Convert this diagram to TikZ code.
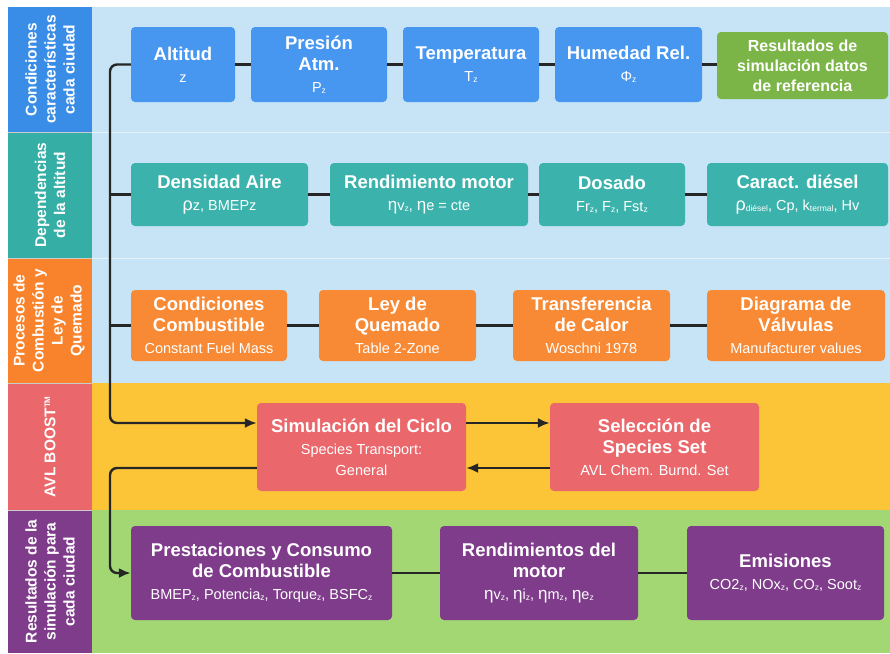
\documentclass[tikz,border=0pt]{standalone}
\usepackage{fontspec}
\setmainfont{Liberation Sans}
\usetikzlibrary{arrows.meta,calc}

\definecolor{cBlueL}{HTML}{3A8DE6}
\definecolor{cBlue}{HTML}{4797F0}
\definecolor{cTeal}{HTML}{3BB3AC}
\definecolor{cTealL}{HTML}{35AEA6}
\definecolor{cOrange}{HTML}{F98A35}
\definecolor{cOrangeL}{HTML}{F8832C}
\definecolor{cRed}{HTML}{EA676B}
\definecolor{cPurple}{HTML}{7E3C8A}
\definecolor{cGreenBox}{HTML}{7BB547}
\definecolor{bgBlue}{HTML}{C6E4F6}
\definecolor{bgYellow}{HTML}{FBC537}
\definecolor{bgGreen}{HTML}{A3D774}
\definecolor{cLine}{HTML}{262626}

\newcommand\subl[1]{{\fontsize{14.5}{17}\selectfont\mdseries #1}}
\newcommand\zs[1]{\raisebox{-1pt}{\fontsize{8.5}{9}\selectfont #1}}
\newcommand\geta{{\fontsize{17}{17}\selectfont η}}
\newcommand\grho{{\fontsize{18}{18}\selectfont ρ}}

\tikzset{
  box/.style={rounded corners=4pt, inner sep=2pt, align=center, text=white,
    font=\fontsize{18.5}{21}\selectfont\bfseries},
  lab/.style={rotate=90, align=center, text=white, inner sep=0pt,
    font=\fontsize{15.5}{19}\selectfont\bfseries},
  conn/.style={draw=cLine, line width=2.4pt},
  arr/.style={conn, -{Latex[length=12pt,width=10pt]}},
}

\begin{document}
\begin{tikzpicture}[x=1pt,y=-1pt]
\useasboundingbox (0,0) rectangle (890,653);
\fill[white] (0,0) rectangle (890,653);
% backgrounds
\fill[bgBlue] (92,7) rectangle (890,383);
\draw[white!55!bgBlue, line width=1pt] (92,132) -- (890,132);
\draw[white!55!bgBlue, line width=1pt] (92,258) -- (890,258);
\fill[bgYellow] (92,383) rectangle (890,510);
\fill[bgGreen] (92,510) rectangle (890,653);
% label column
\fill[cBlueL] (8,7) rectangle (92,132);
\fill[cTealL] (8,132) rectangle (92,258);
\fill[cOrangeL] (8,258) rectangle (92,383);
\fill[cRed] (8,383) rectangle (92,510);
\fill[cPurple] (8,510) rectangle (92,653);
\draw[white!80!black, line width=0.6pt] (8,132) -- (92,132);
\draw[white!80!black, line width=0.6pt] (8,258) -- (92,258);
\draw[white!80!black, line width=0.6pt] (8,383) -- (92,383);
\draw[white!80!black, line width=0.6pt] (8,510) -- (92,510);

\node[lab] (l1) at (50,69.5) {Condiciones\\características\\cada ciudad};
\node[lab] (l2) at (50,195) {Dependencias\\de la altitud};
\node[lab] (l3) at (49,320.5) {Procesos de\\Combustión y\\Ley de\\Quemado};
\node[lab] (l4) at (50,446.5) {AVL BOOST\textsuperscript{\fontsize{8}{8}\selectfont TM}};
\node[lab] (l5) at (50,581.5) {Resultados de la\\simulación para\\cada ciudad};

% row 1
\node[box, fill=cBlue, minimum width=104pt, minimum height=75pt] (alt) at (183,64.5) {Altitud\\[1pt]\subl{z}};
\node[box, fill=cBlue, minimum width=136pt, minimum height=75pt] (pres) at (319,64.5) {Presión\\Atm.\\[1pt]\subl{P\zs{z}}};
\node[box, fill=cBlue, minimum width=136pt, minimum height=75pt] (temp) at (471,64.5) {Temperatura\\[1pt]\subl{T\zs{z}}};
\node[box, fill=cBlue, minimum width=147pt, minimum height=75pt] (hum) at (628.5,64.5) {Humedad Rel.\\[1pt]\subl{Φ\zs{z}}};
\node[box, fill=cGreenBox, minimum width=171pt, minimum height=67pt, font=\fontsize{16}{20}\selectfont\bfseries] (res) at (802.5,65.5) {Resultados de\\simulación datos\\de referencia};

% row 2
\node[box, fill=cTeal, minimum width=177pt, minimum height=63pt] (dens) at (219.5,194.5) {Densidad Aire\\[1pt]\subl{\grho z, BMEPz}};
\node[box, fill=cTeal, minimum width=198pt, minimum height=63pt] (rend) at (429,194.5) {Rendimiento motor\\[1pt]\subl{\geta v\zs{z}, \geta e = cte}};
\node[box, fill=cTeal, minimum width=146pt, minimum height=63pt] (dos) at (612,194.5) {Dosado\\[1pt]\subl{Fr\zs{z}, F\zs{z}, Fst\zs{z}}};
\node[box, fill=cTeal, minimum width=181pt, minimum height=63pt] (car) at (797.5,194.5) {Caract. diésel\\[1pt]\subl{\grho\zs{diésel}, Cp, k\zs{termal}, Hv}};

% row 3
\node[box, fill=cOrange, minimum width=156pt, minimum height=71pt] (cond) at (209,325.5) {Condiciones\\Combustible\\[1pt]\subl{Constant Fuel Mass}};
\node[box, fill=cOrange, minimum width=157pt, minimum height=71pt] (ley) at (397.5,325.5) {Ley de\\Quemado\\[1pt]\subl{Table 2-Zone}};
\node[box, fill=cOrange, minimum width=157pt, minimum height=71pt] (tra) at (591.5,325.5) {Transferencia\\de Calor\\[1pt]\subl{Woschni 1978}};
\node[box, fill=cOrange, minimum width=178pt, minimum height=71pt] (dia) at (796,325.5) {Diagrama de\\Válvulas\\[1pt]\subl{Manufacturer values}};

% row 4
\node[box, fill=cRed, minimum width=209pt, minimum height=88pt] (sim) at (361.5,447) {Simulación del Ciclo\\[1pt]\subl{Species Transport:}\\\subl{General}};
\node[box, fill=cRed, minimum width=209pt, minimum height=88pt] (sel) at (654.5,447) {Selección de\\Species Set\\[1pt]\subl{AVL Chem. Burnd. Set}};

% row 5
\node[box, fill=cPurple, minimum width=261pt, minimum height=94pt] (pre) at (261.5,573) {Prestaciones y Consumo\\de Combustible\\[1pt]\subl{BMEP\zs{z}, Potencia\zs{z}, Torque\zs{z}, BSFC\zs{z}}};
\node[box, fill=cPurple, minimum width=198pt, minimum height=94pt] (ren) at (539,573) {Rendimientos del\\motor\\[1pt]\subl{\geta v\zs{z}, \geta i\zs{z}, \geta m\zs{z}, \geta e\zs{z}}};
\node[box, fill=cPurple, minimum width=197pt, minimum height=94pt] (emi) at (785.5,573) {Emisiones\\[1pt]\subl{CO2\zs{z}, NOx\zs{z}, CO\zs{z}, Soot\zs{z}}};

% connectors
\coordinate (t1) at (110,423);
\coordinate (t2) at (110,468);
\draw[arr, rounded corners=7pt] (alt.west) -| (t1) -- (t1 -| sim.west);
\draw[conn] (dens.west) -- (dens.west -| t1);
\draw[conn] (cond.west) -- (cond.west -| t1);

\draw[conn] (alt.east) -- (pres.west);
\draw[conn] (pres.east) -- (temp.west);
\draw[conn] (temp.east) -- (hum.west);
\draw[conn] (hum.east) -- (hum.east -| res.west);

\draw[conn] (dens.east) -- (rend.west);
\draw[conn] (rend.east) -- (dos.west);
\draw[conn] (dos.east) -- (car.west);

\draw[conn] (cond.east) -- (ley.west);
\draw[conn] (ley.east) -- (tra.west);
\draw[conn] (tra.east) -- (dia.west);

\draw[arr] ([yshift=24pt]sim.east) -- ([yshift=24pt]sel.west);
\draw[arr] ([yshift=-21pt]sel.west) -- ([yshift=-21pt]sim.east);
\draw[arr, rounded corners=7pt] ([yshift=-21pt]sim.west) -- (t2) |- (pre.west);

\draw[conn] (pre.east) -- (ren.west);
\draw[conn] (ren.east) -- (emi.west);
\end{tikzpicture}
\end{document}
